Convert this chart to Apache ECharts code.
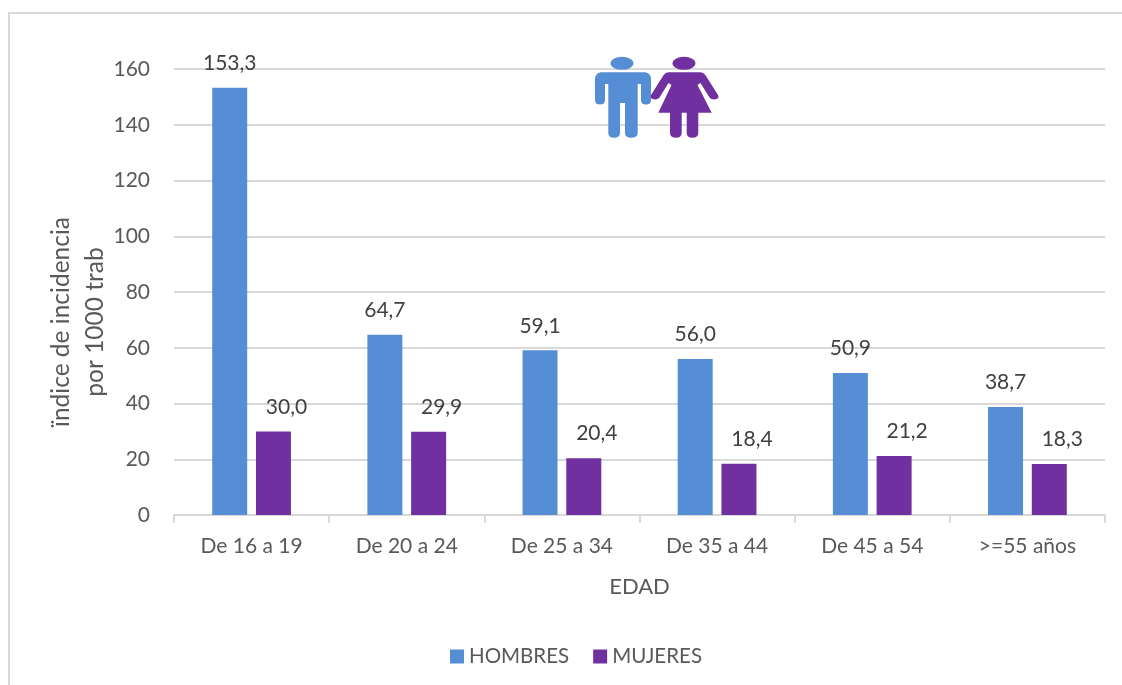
<!DOCTYPE html>
<html>
<head>
<meta charset="utf-8">
<style>html,body{margin:0;padding:0;background:#fff}#chart{width:1122px;height:685px}</style>
<script src="https://cdn.jsdelivr.net/npm/echarts@6/dist/echarts.min.js"></script>
</head>
<body>
<div id="chart"></div>
<script>
const categories = ['De 16 a 19', 'De 20 a 24', 'De 25 a 34', 'De 35 a 44', 'De 45 a 54', '>=55 años'];
const hombres = [153.3, 64.7, 59.1, 56.0, 50.9, 38.7];
const mujeres = [30.0, 29.9, 20.4, 18.4, 21.2, 18.3];

const blue = '#558ED5';
const purple = '#7030A0';
const fontFamily = 'Lato, "Open Sans", sans-serif';
const fontSize = 21;
const textColor = '#595959';
const lineColor = '#D9D9D9';

const myChart = echarts.init(document.getElementById('chart'));

const labelFor = (dx) => ({
    show: true,
    position: 'top',
    distance: 14,
    offset: [dx, 0],
    color: '#404040',
    fontSize: fontSize,
    fontFamily: fontFamily,
    formatter: (p) => p.value.toFixed(1).replace('.', ',')
});

// iconos hombre / mujer, en pixeles de pantalla
const manPath = 'M622 56.8 A11.5 6.5 0 1 1 621.9 56.8 Z' +
    'M601 72.3 L645 72.3 Q651 73.5 651 79 L651 100 Q651 104.5 646 104.5 Q641 104.5 641 100 L641 84 L637.7 84 L637.7 133 Q637.7 137.7 631 137.7 Q625 137.7 625 133 L625 103 L620 103 L620 133 Q620 137.7 614 137.7 Q608.3 137.7 608.3 133 L608.3 84 L605 84 L605 100 Q605 104.5 600 104.5 Q595 104.5 595 100 L595 79 Q595 73.5 601 72.3 Z';
const womanPath = 'M684 56.8 A11.5 6.5 0 1 1 683.9 56.8 Z' +
    'M669 72.3 L700 72.3 Q704 72.5 706 76 L718 95 Q720 99 714 99.5 Q711 99.5 709.5 97.5 L700.5 83 L697.5 85 L711.7 112.7 L698.3 112.7 L698.3 133 Q698.3 137.7 692.5 137.7 Q686.7 137.7 686.7 133 L686.7 112.7 L681.7 112.7 L681.7 133 Q681.7 137.7 676 137.7 Q670 137.7 670 133 L670 112.7 L658.3 112.7 L671.5 85 L668.5 83 L659.5 97.5 Q658 99.5 655 99.5 Q649.5 99 651 95 L663 76 Q665 72.5 669 72.3 Z';

const option = {
    animation: false,
    backgroundColor: '#fff',
    grid: { left: 174, right: 17, top: 69, bottom: 170, containLabel: false },
    legend: {
        data: ['HOMBRES', 'MUJERES'],
        left: 445,
        top: 641,
        itemWidth: 14,
        itemHeight: 14,
        itemGap: 24,
        icon: 'rect',
        textStyle: { color: textColor, fontSize: 20.5, fontFamily: fontFamily }
    },
    xAxis: {
        type: 'category',
        data: categories,
        name: 'EDAD',
        nameLocation: 'middle',
        nameGap: 61,
        nameTextStyle: { color: textColor, fontSize: 22, fontFamily: fontFamily },
        axisLine: { lineStyle: { color: lineColor, width: 2 } },
        axisTick: { show: true, length: 8, lineStyle: { color: lineColor, width: 2 } },
        axisLabel: { color: textColor, fontSize: fontSize, fontFamily: fontFamily, margin: 21 }
    },
    yAxis: {
        type: 'value',
        min: 0,
        max: 160,
        interval: 20,
        name: 'ïndice de incidencia\npor 1000 trab',
        nameLocation: 'middle',
        nameGap: 62,
        nameMoveOverlap: false,
        nameTextStyle: { color: textColor, fontSize: 24.5, fontFamily: fontFamily, lineHeight: 34, padding: [0, 60, 0, 0] },
        axisLine: { show: false },
        axisTick: { show: false },
        axisLabel: { color: textColor, fontSize: fontSize, fontFamily: fontFamily, margin: 24 },
        splitLine: { lineStyle: { color: lineColor, width: 2 } }
    },
    series: [
        {
            name: 'HOMBRES',
            type: 'bar',
            data: hombres,
            barWidth: 35,
            barGap: '25%',
            itemStyle: { color: blue },
            label: labelFor(0)
        },
        {
            name: 'MUJERES',
            type: 'bar',
            data: mujeres,
            barWidth: 35,
            itemStyle: { color: purple },
            label: labelFor(13)
        },
        {
            // los dos iconos de arriba
            name: 'iconos',
            type: 'custom',
            silent: true,
            clip: false,
            z: 50,
            data: [[0, 0]],
            renderItem: () => ({
                type: 'group',
                children: [
                    { type: 'path', shape: { pathData: manPath }, style: { fill: blue } },
                    { type: 'path', shape: { pathData: womanPath }, style: { fill: purple } }
                ]
            })
        }
    ],
    graphic: [
        // marco: solo arriba e izquierda se ven en el original
        { type: 'line', silent: true, z: -1, shape: { x1: 8.5, y1: 13, x2: 1122, y2: 13 }, style: { stroke: lineColor, lineWidth: 2 } },
        { type: 'line', silent: true, z: -1, shape: { x1: 9, y1: 12, x2: 9, y2: 685 }, style: { stroke: lineColor, lineWidth: 2 } }
    ]
};
myChart.setOption(option);
</script>
</body>
</html>
